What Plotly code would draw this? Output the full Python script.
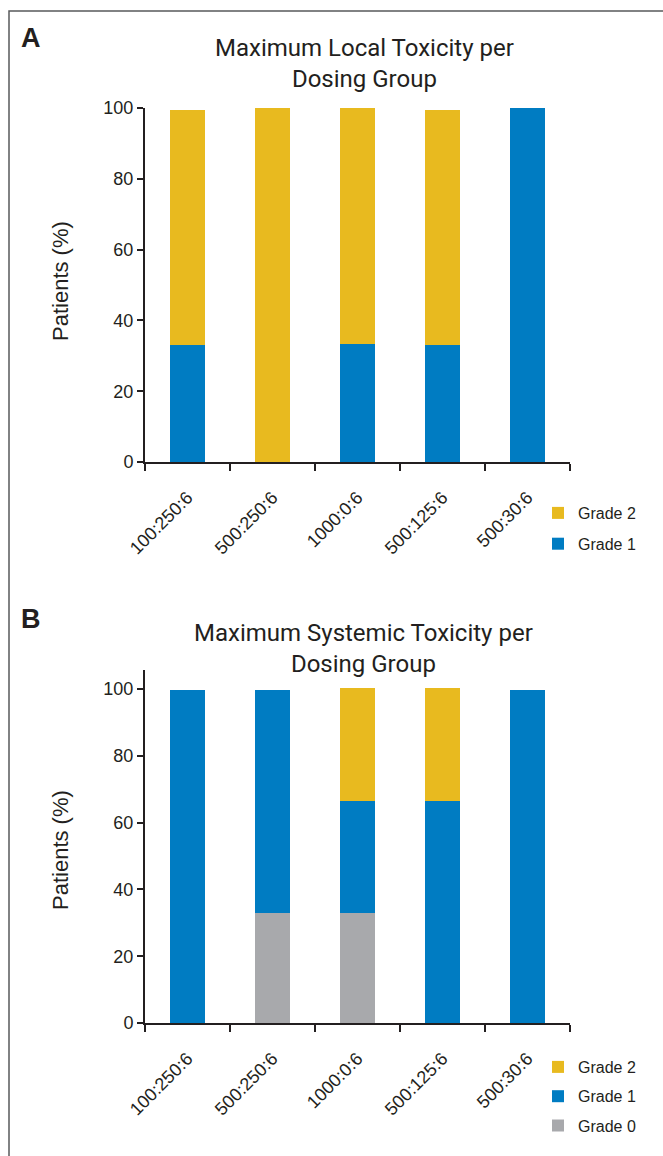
import plotly.graph_objects as go

W, H = 663, 1156

groups = ["100:250:6", "500:250:6", "1000:0:6", "500:125:6", "500:30:6"]

# Panel A: maximum local toxicity (% of patients)
local_grade1 = [33.0, 0.0, 33.3, 33.0, 100.0]
local_grade2 = [66.4, 100.0, 66.7, 66.4, 0.0]

# Panel B: maximum systemic toxicity (% of patients)
sys_grade0 = [0.0, 33.0, 33.0, 0.0, 0.0]
sys_grade1 = [99.7, 66.7, 33.6, 66.6, 99.7]
sys_grade2 = [0.0, 0.0, 33.6, 33.6, 0.0]

YELLOW = "#E8BA1F"
BLUE = "#007CC2"
GRAY = "#A8A9AC"
INK = "#231F20"

def px_x(v):
    return v / W

def px_y(v):
    return 1 - v / H

fig = go.Figure()

def bar(x, y, name, color, xa, ya, legend, rank):
    return go.Bar(x=x, y=y, name=name, marker=dict(color=color, line=dict(width=0)),
                  xaxis=xa, yaxis=ya, legend=legend, legendgroup=legend + name,
                  legendrank=rank, width=0.41)

fig.add_trace(bar(groups, local_grade1, "Grade 1", BLUE, "x", "y", "legend", 2))
fig.add_trace(bar(groups, local_grade2, "Grade 2", YELLOW, "x", "y", "legend", 1))
fig.add_trace(bar(groups, sys_grade0, "Grade 0", GRAY, "x2", "y2", "legend2", 3))
fig.add_trace(bar(groups, sys_grade1, "Grade 1", BLUE, "x2", "y2", "legend2", 2))
fig.add_trace(bar(groups, sys_grade2, "Grade 2", YELLOW, "x2", "y2", "legend2", 1))

FONT = "Liberation Sans, Arial, sans-serif"
tickfont = dict(family=FONT, size=18, color=INK)
xtickfont = dict(family=FONT, size=18, color=INK)

xcommon = dict(type="category", showline=True, linecolor=INK, linewidth=2,
               ticks="outside", tickson="boundaries", ticklen=7, tickwidth=1.5,
               tickcolor=INK, tickangle=-45, tickfont=xtickfont, showgrid=False,
               zeroline=False, domain=[px_x(145), px_x(570)], fixedrange=True,
               automargin=False, ticklabelstandoff=16)
ycommon = dict(showline=True, linecolor=INK, linewidth=2, ticks="outside",
               ticklen=6, tickwidth=1.5, tickcolor=INK, tickfont=tickfont,
               showgrid=False, zeroline=False, dtick=20, fixedrange=True,
               automargin=False)

legfont = dict(family=FONT, size=16, color=INK)
fig.update_layout(
    width=W, height=H,
    margin=dict(l=0, r=0, t=0, b=0, autoexpand=False),
    paper_bgcolor="white", plot_bgcolor="white",
    barmode="stack", bargap=0.59,
    xaxis=dict(xcommon, anchor="y"),
    yaxis=dict(ycommon, anchor="x", range=[0, 100], domain=[px_y(462), px_y(108)]),
    xaxis2=dict(xcommon, anchor="y2"),
    yaxis2=dict(ycommon, anchor="x2", range=[0, 105.7], domain=[px_y(1023), px_y(670)]),
    legend=dict(x=px_x(538), y=px_y(496), xanchor="left", yanchor="top",
                traceorder="grouped", tracegroupgap=7, font=legfont,
                bgcolor="rgba(0,0,0,0)"),
    legend2=dict(x=px_x(538), y=px_y(1050), xanchor="left", yanchor="top",
                 traceorder="grouped", tracegroupgap=5.5, font=legfont,
                 bgcolor="rgba(0,0,0,0)"),
    showlegend=True,
)

ytitlefont = dict(family=FONT, size=22, color=INK)
fig.add_annotation(text="Patients (%)", xref="paper", yref="paper", x=px_x(60), y=px_y(281),
                   xanchor="center", yanchor="middle", textangle=-90, showarrow=False,
                   font=ytitlefont)
fig.add_annotation(text="Patients (%)", xref="paper", yref="paper", x=px_x(60), y=px_y(850),
                   xanchor="center", yanchor="middle", textangle=-90, showarrow=False,
                   font=ytitlefont)

titlefont = dict(family="Roboto, Liberation Sans, sans-serif", size=24, color=INK)
fig.add_annotation(text="Maximum Local Toxicity per<br>Dosing Group", xref="paper", yref="paper",
                   x=px_x(364), y=px_y(63), xanchor="center", yanchor="middle",
                   showarrow=False, font=titlefont)
fig.add_annotation(text="Maximum Systemic Toxicity per<br>Dosing Group", xref="paper", yref="paper",
                   x=px_x(363), y=px_y(648), xanchor="center", yanchor="middle",
                   showarrow=False, font=titlefont)

letterfont = dict(family=FONT, size=27, color=INK)
fig.add_annotation(text="<b>A</b>", xref="paper", yref="paper", x=px_x(31), y=px_y(38),
                   xanchor="center", yanchor="middle", showarrow=False, font=letterfont)
fig.add_annotation(text="<b>B</b>", xref="paper", yref="paper", x=px_x(31), y=px_y(619),
                   xanchor="center", yanchor="middle", showarrow=False, font=letterfont)

# frame around the figure (left and top edges)
fig.add_shape(type="path", xref="paper", yref="paper",
              path=f"M {px_x(9)},{px_y(1160)} L {px_x(9)},{px_y(11)} L {px_x(670)},{px_y(11)}",
              line=dict(color="#58595B", width=1.5))

fig.write_html("out.html", config={"displayModeBar": False},
               post_script="document.body.style.margin='0';document.body.style.padding='0';"
                           "document.body.style.overflow='hidden';")
